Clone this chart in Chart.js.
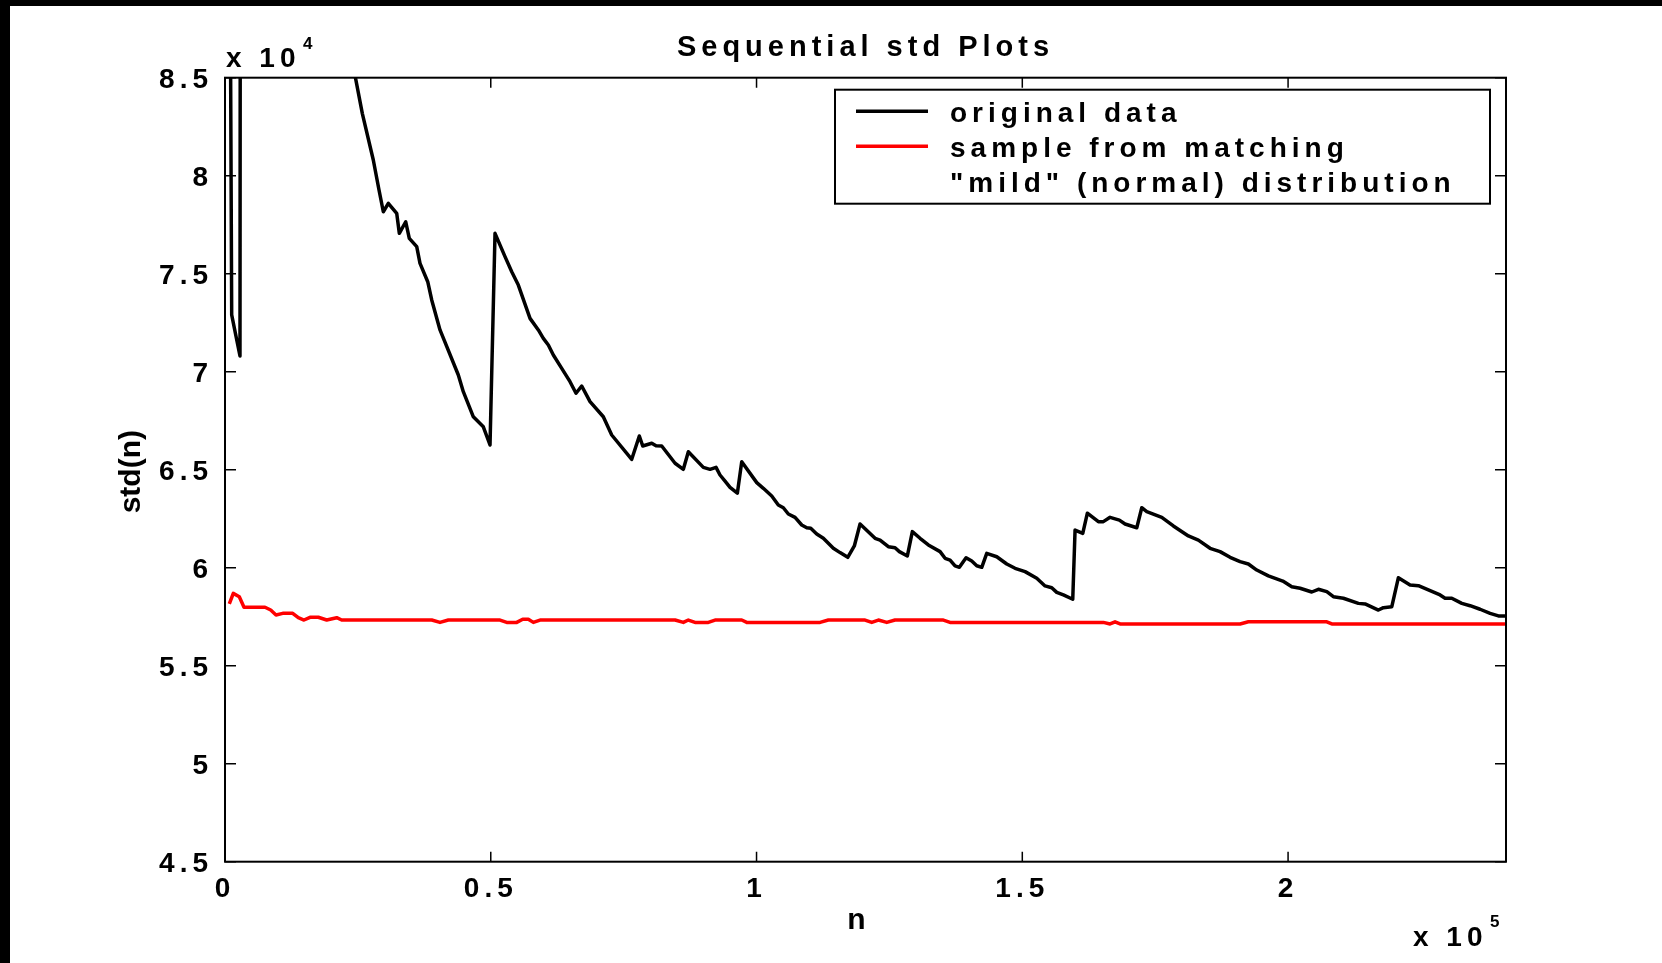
<!DOCTYPE html>
<html>
<head>
<meta charset="utf-8">
<title>Sequential std Plots</title>
<script src="https://cdn.jsdelivr.net/npm/chart.js@4.4.1/dist/chart.umd.min.js"></script>
<style>
  html, body { margin: 0; padding: 0; background: #fff; }
  #wrap { position: relative; width: 1662px; height: 963px; overflow: hidden; }
  #chart { position: absolute; left: 0; top: 0; }
  .bar { position: absolute; background: #000; }
</style>
</head>
<body>
<div id="wrap">
  <canvas id="chart" width="1662" height="963"></canvas>
  <div class="bar" style="left:0;top:0;width:1662px;height:6px"></div>
  <div class="bar" style="left:0;top:0;width:10px;height:963px"></div>
</div>
<script>
// Data (n, std(n))
const origN = [
  0, 1260, 2820, 3010, 9000, 16000, 21000, 25830, 27900, 28975,
  29785, 30725, 32305, 32795, 34000, 34675, 36070, 36690, 38140, 38890,
  40450, 43895, 44835, 46720, 48600, 49860, 50800, 52680, 53945, 55185,
  57385, 58950, 59890, 60830, 61770, 63350, 64910, 66040, 67110, 68675,
  71175, 72755, 76520, 77950, 78590, 80285, 81090, 82165, 84670, 86230,
  87170, 89990, 91250, 92380, 93130, 94075, 95015, 96390, 97215, 100040,
  101280, 102860, 104100, 105045, 105985, 107245, 108505, 109445, 110200, 111325,
  112570, 114450, 115710, 117160, 118400, 119475, 122300, 123240, 124800, 126060,
  126870, 128375, 129315, 130765, 132325, 134530, 135470, 136410, 137350, 138160,
  139420, 140490, 141430, 142370, 143310, 145195, 147075, 148640, 150520, 152720,
  154280, 155540, 156480, 157725, 159490, 159925, 161375, 162240, 164310, 165250,
  166510, 168260, 169335, 171535, 172475, 173415, 176240, 178420, 181245, 183125,
  185325, 187205, 189090, 190970, 192530, 194110, 196295, 199005, 200700, 202260,
  204460, 205705, 207285, 208525, 210410, 213230, 214490, 216995, 217935, 219515,
  220755, 222955, 224520, 226720, 228600, 229540, 230800, 232685, 234245, 236125,
  238010, 239570, 241000
];
const origStd = [
  150000, 72900, 70800, 140000, 112000, 97000, 90000, 83180, 80800, 79270,
  78160, 78590, 78080, 77060, 77650, 76800, 76380, 75530, 74590, 73660,
  72130, 69830, 68980, 67700, 67190, 66260, 77060, 75870, 75100, 74420,
  72720, 72130, 71700, 71360, 70850, 70170, 69490, 68900, 69270, 68470,
  67700, 66770, 65530, 66720, 66210, 66350, 66220, 66210, 65330, 65020,
  65920, 65120, 65020, 65120, 64730, 64420, 64100, 63800, 65410, 64340,
  64050, 63660, 63200, 63060, 62740, 62570, 62180, 62040, 62010, 61720,
  61500, 60990, 60770, 60530, 61110, 62230, 61500, 61410, 61070, 61020,
  60820, 60600, 61840, 61500, 61160, 60820, 60480, 60390, 60090, 60020,
  60510, 60340, 60100, 60020, 60730, 60560, 60190, 59970, 59800, 59460,
  59070, 58980, 58740, 58610, 58390, 61920, 61750, 62780, 62350, 62350,
  62570, 62430, 62230, 62040, 63060, 62860, 62570, 62130, 61620, 61410,
  60990, 60820, 60530, 60310, 60190, 59880, 59580, 59320, 59030, 58950,
  58760, 58900, 58780, 58520, 58440, 58180, 58150, 57840, 57960, 58010,
  59490, 59120, 59080, 58830, 58610, 58440, 58440, 58180, 58060, 57880,
  57670, 57540, 57540
];
const sampleN = [
  810, 1560, 2690, 3575, 7525, 8600, 9595, 10855, 12740, 13790,
  14865, 15990, 17555, 19135, 21015, 21955, 38890, 40450, 42015, 51740,
  53000, 54885, 56010, 57065, 58010, 59270, 84670, 86230, 87170, 88430,
  90935, 92195, 97215, 98155, 111950, 113510, 120415, 121675, 122920, 124500,
  126060, 135150, 136410, 165250, 166510, 167450, 168390, 190970, 192530, 207285,
  208225, 241000
];
const sampleStd = [
  58150, 58690, 58520, 57980, 57980, 57840, 57590, 57670, 57670, 57450,
  57330, 57470, 57470, 57330, 57450, 57330, 57330, 57210, 57330, 57330,
  57210, 57210, 57370, 57370, 57210, 57330, 57330, 57210, 57330, 57210,
  57210, 57330, 57330, 57210, 57210, 57330, 57330, 57210, 57330, 57210,
  57330, 57330, 57210, 57210, 57130, 57240, 57130, 57130, 57240, 57240,
  57130, 57130
];
const xTickValues = [0, 50000, 100000, 150000, 200000];
const xTickLabels = ['0', '0.5', '1', '1.5', '2'];
const yTickValues = [45000, 50000, 55000, 60000, 65000, 70000, 75000, 80000, 85000];
const yTickLabels = ['4.5', '5', '5.5', '6', '6.5', '7', '7.5', '8', '8.5'];

// Styling
const FAMILY = '"Liberation Sans", Arial, Helvetica, sans-serif';
const FONT = { family: FAMILY, size: 28, weight: 'bold', lineHeight: 1.2 };
const SPACING = '5px';

function toPoints(xs, ys) {
  return xs.map((v, i) => ({ x: v, y: ys[i] }));
}

function setTicks(values) {
  return scale => { scale.ticks = values.map(v => ({ value: v })); };
}

// Canvas letter spacing (Chart.js has no option for it)
const spacing = {
  id: 'spacing',
  beforeUpdate(chart) { chart.ctx.letterSpacing = SPACING; },
  beforeDraw(chart) { chart.ctx.letterSpacing = SPACING; }
};

// MATLAB-like box, inward ticks, axis labels, exponent labels and legend
const matlabAxes = {
  id: 'matlabAxes',
  afterDraw(chart) {
    const { ctx, chartArea: a, scales: { x, y } } = chart;
    ctx.save();
    ctx.strokeStyle = '#000';
    ctx.lineWidth = 1.5;
    ctx.beginPath();
    x.ticks.forEach(t => {
      const px = x.getPixelForValue(t.value);
      ctx.moveTo(px, a.bottom); ctx.lineTo(px, a.bottom - 10);
      ctx.moveTo(px, a.top); ctx.lineTo(px, a.top + 10);
    });
    y.ticks.forEach(t => {
      const py = y.getPixelForValue(t.value);
      ctx.moveTo(a.left, py); ctx.lineTo(a.left + 11, py);
      ctx.moveTo(a.right, py); ctx.lineTo(a.right - 11, py);
    });
    ctx.stroke();
    ctx.lineWidth = 2;
    ctx.strokeRect(a.left, a.top, a.right - a.left, a.bottom - a.top);

    // axis titles
    ctx.fillStyle = '#000';
    ctx.letterSpacing = '0px';
    ctx.font = 'bold 30px ' + FAMILY;
    ctx.textAlign = 'center';
    ctx.textBaseline = 'alphabetic';
    ctx.fillText('n', (a.left + a.right) / 2 - 9, a.bottom + 67.5);
    ctx.save();
    ctx.translate(a.left - 85, (a.top + a.bottom) / 2 + 2);
    ctx.rotate(-Math.PI / 2);
    ctx.fillText('std(n)', 0, 0);
    ctx.restore();

    // axis multipliers
    ctx.textAlign = 'left';
    ctx.letterSpacing = SPACING;
    ctx.font = 'bold 28px ' + FAMILY;
    ctx.fillText('x 10', a.left + 1, a.top - 11);
    ctx.fillText('x 10', a.right - 93, a.bottom + 84);
    ctx.font = 'bold 17px ' + FAMILY;
    ctx.fillText('4', a.left + 78, a.top - 29);
    ctx.fillText('5', a.right - 16, a.bottom + 65);

    // legend
    const w = 655, h = 114;
    const lx = a.right - 16 - w, ly = a.top + 12;
    ctx.fillStyle = '#fff';
    ctx.fillRect(lx, ly, w, h);
    ctx.strokeStyle = '#000';
    ctx.lineWidth = 2;
    ctx.strokeRect(lx, ly, w, h);
    ctx.font = 'bold 28px ' + FAMILY;
    let row = 0;
    chart.data.datasets.forEach(ds => {
      const lines = [].concat(ds.legendText);
      const base = ly + 32 + row * 35;
      ctx.strokeStyle = ds.borderColor;
      ctx.lineWidth = 3.5;
      ctx.beginPath();
      ctx.moveTo(lx + 21, base - 10.5);
      ctx.lineTo(lx + 93, base - 10.5);
      ctx.stroke();
      ctx.fillStyle = '#000';
      lines.forEach((t, i) => ctx.fillText(t, lx + 115, base + i * 35));
      row += lines.length;
    });
    ctx.restore();
  }
};

new Chart(document.getElementById('chart'), {
  type: 'line',
  data: {
    datasets: [
      {
        label: 'original data',
        legendText: 'original data',
        data: toPoints(origN, origStd),
        borderColor: '#000000',
        borderWidth: 3.5,
        clip: 0
      },
      {
        label: 'sample from matching "mild" (normal) distribution',
        legendText: ['sample from matching', '"mild" (normal) distribution'],
        data: toPoints(sampleN, sampleStd),
        borderColor: '#ff0000',
        borderWidth: 3.5,
        clip: 0
      }
    ]
  },
  options: {
    responsive: false,
    animation: false,
    devicePixelRatio: 1,
    layout: { padding: { left: 0, right: 156, top: 0, bottom: 0 } },
    elements: {
      point: { radius: 0 },
      line: { tension: 0, borderJoinStyle: 'round' }
    },
    plugins: {
      legend: { display: false },
      tooltip: { enabled: false },
      title: {
        display: true,
        text: 'Sequential std Plots',
        fullSize: false,
        color: '#000',
        font: { family: FAMILY, size: 29, weight: 'bold', lineHeight: 1.2 },
        padding: { top: 31, bottom: 11.9 }
      }
    },
    scales: {
      x: {
        type: 'linear',
        min: 0,
        max: 241000,
        afterFit: s => { s.height = 101.3; },
        afterBuildTicks: setTicks(xTickValues),
        grid: { display: false },
        border: { display: false },
        ticks: {
          autoSkip: false,
          maxRotation: 0,
          padding: 3,
          color: '#000',
          font: FONT,
          callback: (v, i) => xTickLabels[i]
        }
      },
      y: {
        type: 'linear',
        min: 45000,
        max: 85000,
        afterFit: s => { s.width = 225; },
        afterBuildTicks: setTicks(yTickValues),
        grid: { display: false },
        border: { display: false },
        ticks: {
          autoSkip: false,
          padding: 4,
          labelOffset: 3,
          color: '#000',
          font: FONT,
          callback: (v, i) => yTickLabels[i]
        }
      }
    }
  },
  plugins: [spacing, matlabAxes]
});
</script>
</body>
</html>
